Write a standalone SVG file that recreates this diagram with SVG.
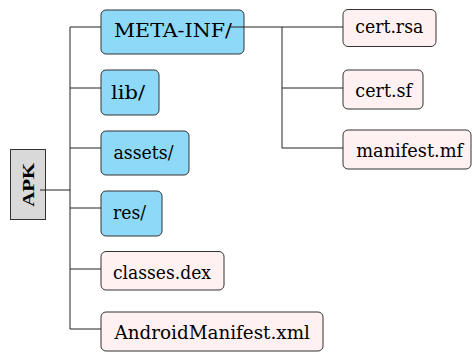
<svg xmlns="http://www.w3.org/2000/svg" width="472" height="352" viewBox="0 0 472 352">
<style>
.dir{fill:#8fd9f8;stroke:#333;stroke-width:1}
.file{fill:#fff1f1;stroke:#333;stroke-width:1}
.root{fill:#d9d9d9;stroke:#333;stroke-width:1}
text{font-family:"DejaVu Serif",serif;font-size:19px;fill:#000;text-anchor:middle}
text.lbl{font-family:"Liberation Serif","DejaVu Serif",serif;font-weight:bold;font-size:17px}
.conn line{stroke:#222;stroke-width:1}
</style>
<rect width="472" height="352" fill="#fff"/>
<g id="apk"><rect class="root" x="10.5" y="149.5" width="35" height="70"/><text class="lbl" transform="translate(34,184.7) rotate(-90)" textLength="44" lengthAdjust="spacingAndGlyphs">APK</text></g>
<g id="meta-inf"><rect class="dir" x="101" y="10" width="143" height="44" rx="5"/><text x="173" y="37.3" textLength="118" lengthAdjust="spacingAndGlyphs">META-INF/</text></g>
<g id="lib"><rect class="dir" x="101" y="70" width="58" height="45" rx="5"/><text x="128" y="98.7" textLength="34" lengthAdjust="spacingAndGlyphs">lib/</text></g>
<g id="assets"><rect class="dir" x="101" y="131" width="88" height="44" rx="5"/><text x="143.5" y="159.3" textLength="60" lengthAdjust="spacingAndGlyphs">assets/</text></g>
<g id="res"><rect class="dir" x="101" y="191" width="61" height="45" rx="5"/><text x="129.5" y="219.3" textLength="33" lengthAdjust="spacingAndGlyphs">res/</text></g>
<g id="classes"><rect class="file" x="101" y="251.5" width="123" height="38.5" rx="5"/><text x="162" y="278.7" textLength="98" lengthAdjust="spacingAndGlyphs">classes.dex</text></g>
<g id="androidmanifest"><rect class="file" x="101" y="312" width="222" height="39" rx="5"/><text x="212.2" y="339.3" textLength="195.5" lengthAdjust="spacingAndGlyphs">AndroidManifest.xml</text></g>
<g id="cert-rsa"><rect class="file" x="343" y="9.5" width="93" height="37" rx="5"/><text x="389.3" y="33.3" textLength="68" lengthAdjust="spacingAndGlyphs">cert.rsa</text></g>
<g id="cert-sf"><rect class="file" x="343" y="70" width="80" height="39" rx="5"/><text x="383.7" y="96.7" textLength="56.7" lengthAdjust="spacingAndGlyphs">cert.sf</text></g>
<g id="manifest-mf"><rect class="file" x="343" y="130" width="128" height="39" rx="5"/><text x="409.7" y="156.7" textLength="107" lengthAdjust="spacingAndGlyphs">manifest.mf</text></g>
<g class="conn" id="connectors">
<line x1="40" y1="190" x2="70" y2="190"/>
<line x1="70" y1="27" x2="70" y2="329"/>
<line x1="70" y1="27" x2="101" y2="27"/>
<line x1="70" y1="88" x2="101" y2="88"/>
<line x1="70" y1="148" x2="101" y2="148"/>
<line x1="70" y1="208" x2="101" y2="208"/>
<line x1="70" y1="269" x2="101" y2="269"/>
<line x1="70" y1="329" x2="101" y2="329"/>
<line x1="229" y1="27" x2="343" y2="27"/>
<line x1="282" y1="27" x2="282" y2="148"/>
<line x1="282" y1="88" x2="343" y2="88"/>
<line x1="282" y1="148" x2="343" y2="148"/>
</g>
</svg>
